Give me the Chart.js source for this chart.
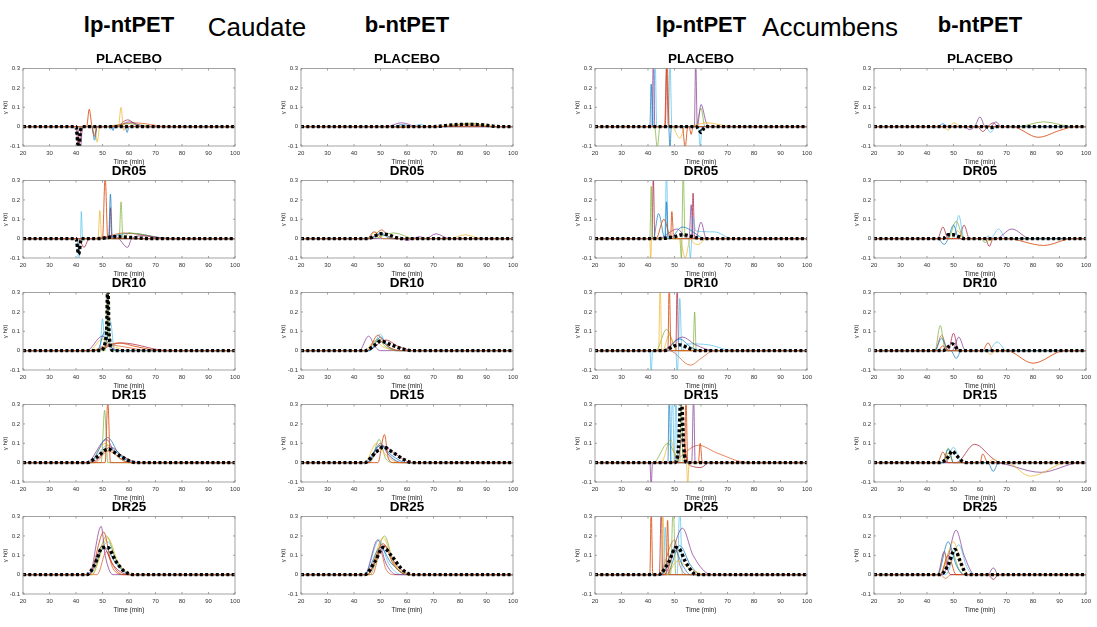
<!DOCTYPE html>
<html>
<head>
<meta charset="utf-8">
<script src="https://cdn.jsdelivr.net/npm/chart.js@4.4.1/dist/chart.umd.min.js"></script>
<style>
  body { margin:0; background:#fff; font-family:"Liberation Sans", Arial, sans-serif; }
  #page { position:relative; width:1097px; height:627px; overflow:hidden; }
  .panel { position:absolute; }
  .lbl { position:absolute; white-space:nowrap; line-height:1; color:#000; transform:translateX(-50%); }
</style>
</head>
<body>
<div id="page"></div>
<script>
// ==========================================
// ntPET response curves, Caudate / Accumbens
// ==========================================

const regions = ["Caudate", "Accumbens"];
const methods = ["lp-ntPET", "b-ntPET"];
const doses = ["PLACEBO", "DR05", "DR10", "DR15", "DR25"];
const timeTicks = [20, 30, 40, 50, 60, 70, 80, 90, 100];
const valueTicks = [-0.1, 0, 0.1, 0.2, 0.3];

// each curve: [time (min), gamma*h(t)] pairs, zero outside the listed span

// ---------- Caudate, lp-ntPET ----------
const caudLpPlacebo = [
  [[44,0],[45,0.09],[46,0],[47,-0.05],[48,0]],
  [[46,0],[47,-0.07],[48,0],[53.5,0],[54,-0.02],[54.5,0],[58.5,0],[59.3,-0.03],[60,0]],
  [[47,0],[48,-0.08],[49,0],[56,0],[57,0.1],[58,-0.02],[59,0]],
  [[40.5,0],[41.5,-0.15],[42.5,0],[55,0],[60,0.025],[66,0]],
  [[52,0],[60,0.015],[70,0]],
  [[46,0],[47,-0.04],[48,0],[52,0],[53,-0.015],[54,0]],
  [[40,0],[41,-0.13],[42,0],[55,0],[59.5,0.035],[64,0]],
  [[50,0],[62,0.02],[75,0]]
];
const caudLpPlaceboMean = [[40,0],[41,-0.12],[41.7,-0.02],[42.5,0]];

const caudLpDr05 = [
  [[50,0],[51,0.32],[52,0]],
  [[52.3,0],[53,0.23],[53.7,0]],
  [[48.3,0],[49,0.145],[49.7,0]],
  [[45,0],[55,0.01],[59.5,-0.045],[61,0],[65,0.015],[75,0]],
  [[56.3,0],[57,0.19],[57.7,0],[60,0.03],[75,0]],
  [[40.5,0],[41,-0.15],[41.5,0],[41.7,0],[42,0.14],[42.5,0]],
  [[41,0],[43,-0.045],[45,0],[52.5,0],[53,0.16],[53.5,0]],
  [[48,0],[58,0.03],[75,0]],
  [[48,0],[60,0.028],[76,0]]
];
const caudLpDr05Mean = [[40,0],[41,-0.08],[42,0],[48,0],[55,0.01],[62,0.005],[68,0]];

const caudLpDr10 = [
  [[46,0],[56,0.04],[63,0.02],[72,0]],
  [[48,0],[51,0.1],[53,0.02],[56,0]],
  [[45,0],[50,0.06],[53,0.03],[60,0]],
  [[44,0],[50,0.075],[53,0.02],[58,0]],
  [[51,0],[52,0.34],[53,0]],
  [[49,0],[50,0.165],[51,0.02],[53,0.15],[54.5,0]],
  [[47,0],[57,0.04],[75,0]],
  [[46,0],[52,0.03],[58,0.02],[68,0]]
];
const caudLpDr10Mean = [[49,0],[51.5,0.08],[52,0.36],[52.5,0.08],[54,0]];

const caudLpDr15 = [
  [[51,0],[52,0.32],[53,0]],
  [[45,0],[52,0.13],[56,0.05],[62,0]],
  [[45,0],[51,0.1],[55,0.04],[60,0]],
  [[44,0],[51.5,0.12],[55,0.04],[62,0]],
  [[49.5,0],[50.8,0.27],[52,0]],
  [[45,0],[52,0.09],[57,0.03],[63,0]],
  [[46,0],[53,0.08],[58,0.03],[64,0]],
  [[47,0],[52,0.06],[60,0]]
];
const caudLpDr15Mean = [[44,0],[48,0.03],[52,0.07],[56,0.04],[60,0.01],[63,0]];

const caudLpDr25 = [
  [[45,0],[50.5,0.22],[53,0.08],[58,0]],
  [[44,0],[51,0.14],[55,0.06],[61,0]],
  [[46,0],[52,0.19],[56,0.06],[62,0]],
  [[45,0],[49.5,0.25],[51,0.1],[54,0]],
  [[46,0],[51.5,0.2],[55,0.08],[61,0]],
  [[45,0],[52,0.17],[56,0.05],[61,0]],
  [[45,0],[50,0.15],[54,0.05],[60,0]],
  [[48,0],[51.5,0.12],[54,0.03],[58,0]]
];
const caudLpDr25Mean = [[44,0],[47,0.05],[50,0.14],[52,0.14],[55,0.07],[58,0.02],[62,0]];

// ---------- Caudate, b-ntPET ----------
const caudBPlacebo = [
  [[54,0],[58,-0.005],[62,0]],
  [[55,0],[58,0.01],[63,0]],
  [[70,0],[80,0.012],[88,0.01],[95,0]],
  [[52,0],[58,0.02],[64,0]],
  [[73,0],[84,0.018],[93,0]],
  [[62,0],[65,0.012],[68,0]],
  [[72,0],[82,0.01],[92,0]]
];
const caudBPlaceboMean = [[70,0],[76,0.008],[82,0.012],[88,0.01],[95,0]];

const caudBDr05 = [
  [[46,0],[50.5,0.045],[53,0.01],[56,0]],
  [[46,0],[50,0.025],[54,0]],
  [[45,0],[48,0.035],[51,0],[76,0],[82,0.02],[88,0]],
  [[58,0],[60,-0.01],[62,0],[65,0.01],[67,0],[71,0.025],[76,0]],
  [[47,0],[55,0.03],[63,0]],
  [[46,0],[50,0.03],[55,0]],
  [[45,0],[47.5,0.035],[51,0]]
];
const caudBDr05Mean = [[45,0],[48,0.015],[50,0.025],[53,0.02],[56,0.005],[58,0]];

const caudBDr10 = [
  [[45,0],[49,0.08],[52,0.03],[58,0]],
  [[46,0],[50,0.07],[53,0.02],[57,0]],
  [[44,0],[48,0.05],[51,0.02],[56,0]],
  [[42,0],[45.5,0.075],[48,0.02],[50,0]],
  [[45,0],[49,0.06],[52,0.02],[56,0]],
  [[46,0],[50,0.085],[52,0.03],[56,0]],
  [[45,0],[52,0.055],[57,0.02],[63,0]]
];
const caudBDr10Mean = [[44,0],[48,0.03],[50,0.05],[54,0.03],[58,0.01],[62,0]];

const caudBDr15 = [
  [[49,0],[51.5,0.145],[53,0.02],[55,0]],
  [[44,0],[50,0.09],[54,0.04],[60,0]],
  [[44,0],[48.5,0.1],[52,0.04],[57,0]],
  [[45,0],[50,0.1],[53,0.04],[58,0]],
  [[46,0],[49.5,0.12],[52,0.02],[55,0]],
  [[45,0],[50,0.09],[54,0.03],[58,0]],
  [[45,0],[51,0.085],[56,0.04],[62,0]]
];
const caudBDr15Mean = [[44,0],[48,0.05],[51,0.08],[55,0.05],[59,0.015],[62,0]];

const caudBDr25 = [
  [[45,0],[51,0.16],[55,0.05],[60,0]],
  [[44,0],[50,0.14],[54,0.06],[60,0]],
  [[45,0],[51,0.19],[55,0.06],[61,0]],
  [[44,0],[49,0.18],[52,0.06],[56,0]],
  [[46,0],[51.5,0.2],[55,0.06],[61,0]],
  [[44,0],[49.5,0.18],[53,0.06],[58,0]],
  [[45,0],[51.5,0.15],[56,0.05],[62,0]],
  [[47,0],[50,0.12],[52,0.03],[55,0]]
];
const caudBDr25Mean = [[44,0],[48,0.07],[51,0.14],[54,0.1],[58,0.03],[62,0]];

// ---------- Accumbens, lp-ntPET ----------
const accLpPlacebo = [
  [[46.5,0],[47.2,0.35],[48,0],[53,0],[54,-0.11],[55,0],[55.5,0],[56.3,-0.04],[57,0]],
  [[40.7,0],[41.2,0.22],[41.8,0],[47.8,0],[48.3,-0.12],[48.8,0]],
  [[49,0],[52,-0.06],[54,0],[55,0],[62,0.02],[72,0]],
  [[41.5,0],[42,0.35],[42.6,0],[57.5,0],[58,0.35],[58.6,0],[60,0.115],[62,0.02],[64,0]],
  [[42.5,0],[43.5,-0.11],[44.5,0],[58,0],[60,0.095],[61.5,0]],
  [[42,0],[42.7,0.35],[43.3,0],[47.7,0],[48.3,0.35],[49,0],[59,0],[59.7,-0.11],[60.4,0]],
  [[46.3,0],[47,0.32],[47.7,0]]
];
const accLpPlaceboMean = [[58,0],[59.5,-0.02],[60,-0.03],[61,-0.01],[62,0]];

const accLpDr05 = [
  [[43,0],[46,0.1],[48,0.02],[48.5,0],[49,0.14],[49.7,0],[50,0]],
  [[42,0],[44,0.13],[46,0.01],[46.5,0],[47,0.19],[47.6,0],[48,0],[53,0.06],[62,0]],
  [[40.7,0],[41,-0.12],[41.4,0],[52,0],[54,-0.1],[56,0],[57,-0.02],[59,-0.03],[62,0]],
  [[44,0],[51,0.05],[54,0.01],[55.5,0],[56.3,0.175],[57,0],[58,0],[60,0.085],[62,0]],
  [[40.7,0],[41.2,0.27],[41.7,0],[52,0],[52.6,-0.1],[53.3,0.35],[54,0]],
  [[46.3,0],[47,0.35],[47.6,0],[55.3,0],[56,-0.1],[56.5,0],[57,0.11],[58,0.04],[65,0.035],[72,0]],
  [[41.5,0],[42,0.32],[42.6,0],[56.5,0],[57,0.235],[57.6,0]]
];
const accLpDr05Mean = [[44,0],[50,0.01],[53,0.02],[57,0.01],[60,0]];

const accLpDr10 = [
  [[47.5,0],[48,0.35],[48.7,0]],
  [[46,0],[52,0.06],[56,0.02],[60,0]],
  [[44,0],[44.6,0.35],[45.2,0],[45.5,0],[48,0.08],[51,0]],
  [[45,0],[53,0.07],[58,0.03],[65,0]],
  [[43,0],[47,0.11],[50,0.02],[51,0],[57,0],[57.6,0.2],[58.2,0]],
  [[40.7,0],[41.2,-0.12],[41.7,0],[50.5,0],[51,-0.12],[51.5,0],[52,0.27],[52.8,0],[55,0.035],[63,0.03],[72,0]],
  [[50.5,0],[51,0.35],[51.6,0]],
  [[48,0],[56,-0.075],[60,-0.04],[65,0]]
];
const accLpDr10Mean = [[46,0],[50,0.025],[52,0.03],[55,0.015],[58,0]];

const accLpDr15 = [
  [[53.8,0],[54.3,0.35],[55,0],[59,0],[59.7,0.1],[60.5,0]],
  [[47.5,0],[48,0.35],[48.7,0]],
  [[45,0],[48.5,0.12],[50,0.05],[51,0],[54.5,0],[55,-0.12],[55.5,0]],
  [[40.7,0],[41.2,-0.12],[41.7,0],[56.5,0],[57.2,0.35],[57.8,0]],
  [[42,0],[47.5,0.1],[50,0.05],[52,0],[52.5,0.35],[53.3,0]],
  [[48.5,0],[49.2,0.35],[50,0],[50.5,0.35],[51.3,0]],
  [[51,0],[53,0.13],[55,0],[57,-0.02],[60,-0.025],[63,0]],
  [[48,0],[59,0.09],[66,0.05],[78,0]]
];
const accLpDr15Mean = [[50,0],[51.5,0.08],[52.5,0.36],[53.5,0.08],[54.5,0]];

const accLpDr25 = [
  [[40.7,0],[41.2,0.35],[41.8,0],[46.8,0],[47.4,0.28],[48,0]],
  [[45,0],[50,0.13],[53,0.05],[56,0]],
  [[45,0],[45.6,0.35],[46.3,0],[47,0],[51,0.07],[56,0.03],[62,0]],
  [[46,0],[53,0.24],[57,0.1],[64,0]],
  [[48.5,0],[49.5,0.35],[50.5,0]],
  [[45.8,0],[46.5,0.245],[47.2,0],[51,0],[52,0.35],[53,0]],
  [[44.3,0],[45,0.35],[45.6,0]],
  [[44,0],[50,0.18],[52,0.05],[55,0]],
  [[47,0],[52,0.15],[56,0.05],[60,0]]
];
const accLpDr25Mean = [[44,0],[48,0.07],[50.5,0.14],[52,0.13],[54,0.07],[57,0.01],[58,0]];

// ---------- Accumbens, b-ntPET ----------
const accBPlacebo = [
  [[72,0],[82,-0.055],[90,-0.02],[96,0]],
  [[44,0],[46,0.015],[48,0]],
  [[46,0],[48,-0.018],[50,0.02],[53,0]],
  [[54,0],[56,-0.015],[58,0],[60,0.05],[62,0],[64,0],[66,0.025],[68,0]],
  [[74,0],[84,0.025],[95,0]],
  [[62,0],[64,-0.03],[66,0]],
  [[59,0],[61,-0.025],[63,0],[65,0.02],[67,0]]
];
const accBPlaceboMean = [[62,0],[64,-0.005],[66,0]];

const accBDr05 = [
  [[70,0],[84,-0.035],[95,0]],
  [[44,0],[46.5,-0.03],[48,0],[50,0.07],[52,0]],
  [[49,0],[51.5,0.04],[54,0],[62,0],[64,-0.01],[66,0]],
  [[66,0],[72,0.05],[79,0]],
  [[48,0],[51,0.09],[54,0],[60,0],[62,-0.02],[64,0]],
  [[50,0],[52,0.12],[54,0],[62,0],[63,0.015],[64,0],[67,0.05],[70,0]],
  [[44,0],[46,0.06],[48,0],[52,0],[54,0.07],[56,0],[62,0],[63.5,-0.04],[65,0]]
];
const accBDr05Mean = [[46,0],[48,0.02],[50,0.02],[52,0.01],[54,0]];

const accBDr10 = [
  [[44,0],[46,0.025],[48,0],[61,0],[63,0.04],[65,0],[70,0],[80,-0.065],[92,0]],
  [[43,0],[45.5,0.065],[48,0]],
  [[62,0],[64,-0.02],[66,0]],
  [[49.5,0],[52,0.07],[54.5,0]],
  [[43,0],[45,0.13],[47,0]],
  [[63,0],[66.5,0.045],[70,0]],
  [[48,0],[50,0.09],[52,0]],
  [[43,0],[45.5,0.08],[48,0]],
  [[49,0],[51,-0.04],[53,0]]
];
const accBDr10Mean = [[46,0],[48,0.02],[49.5,0.035],[50.5,0.025],[52,0]];

const accBDr15 = [
  [[44,0],[46,0.055],[48,0],[60,0],[61,0.045],[63,0]],
  [[46,0],[48,0.07],[50,0],[63,0],[65,-0.045],[67,0]],
  [[46,0],[48,0.05],[50,0],[63,0],[65,0.02],[67,0],[70,0],[79,-0.07],[93,0]],
  [[65,0],[83,-0.05],[98,0]],
  [[46,0],[48,0.075],[50,0]],
  [[47,0],[50,0.08],[53,0]],
  [[51,0],[58,0.095],[65,0.02],[68,0]]
];
const accBDr15Mean = [[45,0],[48,0.03],[49.5,0.06],[51,0.04],[53,0.01],[55,0]];

const accBDr25 = [
  [[45,0],[48,0.1],[51,0]],
  [[44,0],[48,0.17],[51,0.05],[54,0]],
  [[45,0],[50,0.17],[53,0.05],[56,0]],
  [[46,0],[51,0.23],[54,0.1],[58,0],[63,0],[65,0.035],[67,0]],
  [[45,0],[49,0.13],[52,0.03],[54,0]],
  [[47,0],[52,0.155],[55,0.04],[58,0]],
  [[44,0],[46.5,0.12],[48,0.02],[49,0],[63,0],[65,-0.025],[67,0]],
  [[45,0],[47,-0.02],[49,0]]
];
const accBDr25Mean = [[45,0],[48,0.05],[50.5,0.13],[52.5,0.07],[54,0.02],[55,0]];

// grid order: rows = doses, columns = caud lp, caud b, acc lp, acc b
const panelCurves = [
  [caudLpPlacebo, caudBPlacebo, accLpPlacebo, accBPlacebo],
  [caudLpDr05, caudBDr05, accLpDr05, accBDr05],
  [caudLpDr10, caudBDr10, accLpDr10, accBDr10],
  [caudLpDr15, caudBDr15, accLpDr15, accBDr15],
  [caudLpDr25, caudBDr25, accLpDr25, accBDr25]
];
const panelMeans = [
  [caudLpPlaceboMean, caudBPlaceboMean, accLpPlaceboMean, accBPlaceboMean],
  [caudLpDr05Mean, caudBDr05Mean, accLpDr05Mean, accBDr05Mean],
  [caudLpDr10Mean, caudBDr10Mean, accLpDr10Mean, accBDr10Mean],
  [caudLpDr15Mean, caudBDr15Mean, accLpDr15Mean, accBDr15Mean],
  [caudLpDr25Mean, caudBDr25Mean, accLpDr25Mean, accBDr25Mean]
];

// ==========================================
// layout / style
// ==========================================

const palette = ["#D95319", "#0072BD", "#EDB120", "#7E2F8E", "#77AC30", "#4DBEEE", "#A2142F"];
const colLeft = [23, 301, 595, 874];
const rowTop = [67, 179, 291, 403, 515];
const plotW = 212, plotH = 79;
const yAxisW = 24, xAxisH = 20, padTop = 5, padRight = 9;
const FONT = "'Liberation Sans', Arial, sans-serif";

const page = document.getElementById("page");

function addLabel(text, cx, baseline, size, bold){
  const d = document.createElement("div");
  d.className = "lbl";
  d.textContent = text;
  d.style.left = cx + "px";
  d.style.top = (baseline - 0.8465 * size) + "px";
  d.style.fontSize = size + "px";
  d.style.fontWeight = bold ? "bold" : "normal";
  page.appendChild(d);
}

// column headers
addLabel(methods[0], colLeft[0] + 106, 33, 22, true);
addLabel(regions[0], 257, 36, 26, false);
addLabel(methods[1], colLeft[1] + 106, 33, 22, true);
addLabel(methods[0], colLeft[2] + 106, 33, 22, true);
addLabel(regions[1], 830, 36, 26, false);
addLabel(methods[1], colLeft[3] + 106, 33, 22, true);

// box + inward tick marks (matlab style)
const boxPlugin = {
  id: "box",
  afterDatasetsDraw(chart){
    const {ctx, chartArea: a, scales: {x, y}} = chart;
    ctx.save();
    ctx.strokeStyle = "#8c8c8c";
    ctx.lineWidth = 0.8;
    ctx.strokeRect(a.left, a.top, a.right - a.left, a.bottom - a.top);
    ctx.beginPath();
    timeTicks.forEach(t => {
      const px = x.getPixelForValue(t);
      ctx.moveTo(px, a.bottom); ctx.lineTo(px, a.bottom - 2);
      ctx.moveTo(px, a.top); ctx.lineTo(px, a.top + 2);
    });
    valueTicks.forEach(v => {
      const py = y.getPixelForValue(v);
      ctx.moveTo(a.left, py); ctx.lineTo(a.left + 2, py);
      ctx.moveTo(a.right, py); ctx.lineTo(a.right - 2, py);
    });
    ctx.stroke();
    ctx.restore();
  }
};

function toPoints(pairs){
  const pts = pairs.map(([t, v]) => ({x: t, y: v}));
  if(pts[0].x > 20) pts.unshift({x: 20, y: 0});
  if(pts[pts.length - 1].x < 100) pts.push({x: 100, y: 0});
  return pts;
}

function makePanel(r, c){
  const wrap = document.createElement("div");
  wrap.className = "panel";
  wrap.style.left = (colLeft[c] - yAxisW) + "px";
  wrap.style.top = (rowTop[r] - padTop) + "px";
  wrap.style.width = (yAxisW + plotW + padRight) + "px";
  wrap.style.height = (padTop + plotH + xAxisH) + "px";
  const canvas = document.createElement("canvas");
  wrap.appendChild(canvas);
  page.appendChild(wrap);

  addLabel(doses[r], colLeft[c] + plotW / 2, rowTop[r] - 4, 13.5, true);

  const datasets = [];

  // mean response, black dotted (dataset 0 is drawn on top)
  datasets.push({
    data: toPoints(panelMeans[r][c]),
    borderColor: "#000",
    borderWidth: 3.4,
    borderDash: [3, 2.3],
    borderCapStyle: "butt",
    pointRadius: 0,
    cubicInterpolationMode: "monotone",
    fill: false
  });

  panelCurves[r][c].forEach((curve, i) => {
    datasets.push({
      data: toPoints(curve),
      borderColor: palette[i % palette.length] + (i === 0 ? "e0" : "b0"),
      borderWidth: 1,
      pointRadius: 0,
      cubicInterpolationMode: "monotone",
      fill: false
    });
  });

  new Chart(canvas, {
    type: "line",
    data: { datasets },
    options: {
      responsive: true,
      maintainAspectRatio: false,
      animation: false,
      events: [],
      layout: { padding: { top: padTop, right: padRight, left: 0, bottom: 0 } },
      plugins: { legend: { display: false }, tooltip: { enabled: false } },
      scales: {
        x: {
          type: "linear",
          min: 20, max: 100,
          afterBuildTicks: s => { s.ticks = timeTicks.map(v => ({value: v})); },
          afterFit: s => { s.height = xAxisH; },
          grid: { display: false, drawTicks: false, tickLength: 0 },
          border: { display: false },
          ticks: { font: { family: FONT, size: 6 }, color: "#333", padding: 4, maxRotation: 0 },
          title: { display: true, text: "Time (min)", font: { family: FONT, size: 6.5 }, color: "#222", padding: { top: 0, bottom: 0 } }
        },
        y: {
          type: "linear",
          min: -0.1, max: 0.3,
          afterBuildTicks: s => { s.ticks = valueTicks.map(v => ({value: v})); },
          afterFit: s => { s.width = yAxisW; },
          grid: { display: false, drawTicks: false, tickLength: 0 },
          border: { display: false },
          ticks: {
            font: { family: FONT, size: 6 }, color: "#333", padding: 3,
            callback: v => String(Math.round(v * 10) / 10)
          },
          title: { display: true, text: "γ h(t)", font: { family: FONT, size: 6 }, color: "#222", padding: { top: 3, bottom: 0 } }
        }
      }
    },
    plugins: [boxPlugin]
  });
}

for(let r = 0; r < doses.length; r++){
  for(let c = 0; c < 4; c++){
    makePanel(r, c);
  }
}
</script>
</body>
</html>
